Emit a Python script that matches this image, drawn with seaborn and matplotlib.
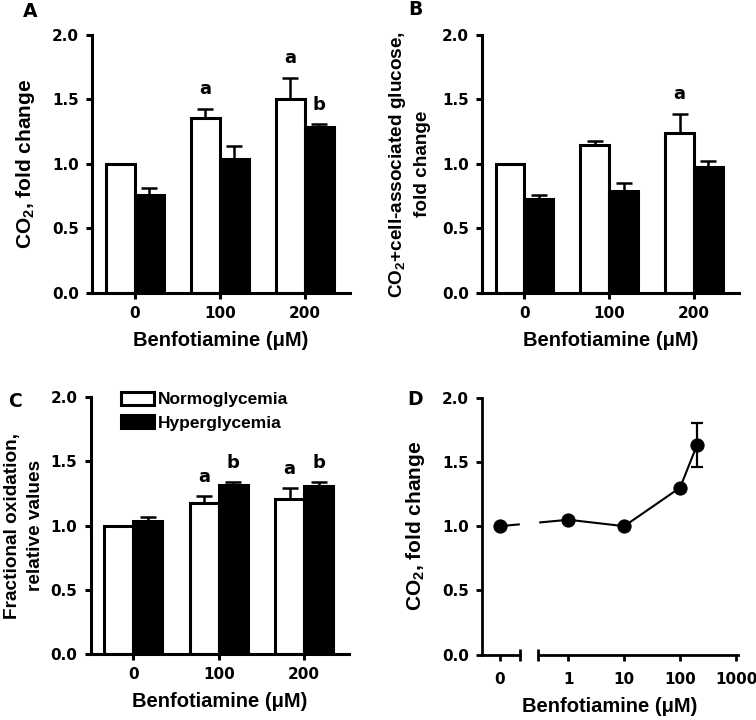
import numpy as np
import pandas as pd
import matplotlib
matplotlib.use("Agg")
import matplotlib.pyplot as plt
import seaborn as sns

# --- data ---
doses = ["0", "100", "200"]
groups = ["Normoglycemia", "Hyperglycemia"]

# A: CO2, fold change
a_normo = [1.00, 1.36, 1.50]
a_normo_err = [0.00, 0.07, 0.17]
a_hyper = [0.76, 1.04, 1.29]
a_hyper_err = [0.05, 0.10, 0.02]
a_marks_normo = ["", "a", "a"]
a_marks_hyper = ["", "", "b"]

# B: CO2 + cell-associated glucose
b_normo = [1.00, 1.15, 1.24]
b_normo_err = [0.00, 0.03, 0.15]
b_hyper = [0.73, 0.79, 0.98]
b_hyper_err = [0.03, 0.06, 0.04]
b_marks_normo = ["", "", "a"]
b_marks_hyper = ["", "", ""]

# C: fractional oxidation
c_normo = [1.00, 1.18, 1.21]
c_normo_err = [0.00, 0.05, 0.08]
c_hyper = [1.04, 1.32, 1.31]
c_hyper_err = [0.03, 0.02, 0.03]
c_marks_normo = ["", "a", "a"]
c_marks_hyper = ["", "b", "b"]

# D: dose response
d_dose = [0, 1, 10, 100, 200]
d_co2 = [1.00, 1.05, 1.00, 1.30, 1.63]
d_err = [0.0, 0.0, 0.0, 0.0, 0.17]
d_ticks = [0, 1, 10, 100, 1000]

sns.set_theme(style="ticks")
plt.rcParams["font.family"] = ["Liberation Sans", "DejaVu Sans"]
plt.rcParams["font.weight"] = "bold"
plt.rcParams["axes.labelweight"] = "bold"
plt.rcParams["mathtext.default"] = "regular"
for k in ["text.color", "axes.labelcolor", "xtick.color", "ytick.color",
          "axes.edgecolor"]:
    plt.rcParams[k] = "black"

LW = 2.2
XLAB = "Benfotiamine (\u03bcM)"


def style_axes(ax, lw=LW):
    sns.despine(ax=ax)
    for s in ["left", "bottom"]:
        ax.spines[s].set_linewidth(lw)
    ax.set_ylim(0, 2)
    ax.set_yticks([0, 0.5, 1.0, 1.5, 2.0])
    ax.yaxis.set_major_formatter(matplotlib.ticker.FormatStrFormatter("%.1f"))
    ax.tick_params(which="major", width=lw, length=4.5, pad=5,
                   labelsize=11, labelfontfamily="DejaVu Sans")
    ax.set_xlabel(XLAB, fontsize=14.5, labelpad=7)


def bar_panel(ax, normo, normo_err, hyper, hyper_err, marks_n, marks_h,
              ylabel, ysize=15, ypad=11):
    df = pd.DataFrame({
        "dose": doses * 2,
        "value": normo + hyper,
        "group": [groups[0]] * len(doses) + [groups[1]] * len(doses),
    })
    sns.barplot(data=df, x="dose", y="value", hue="group", order=doses,
                hue_order=groups, palette=["white", "black"], saturation=1,
                edgecolor="black", linewidth=LW, width=0.68, errorbar=None,
                legend=False, ax=ax)
    for cont, errs, marks in zip(ax.containers, [normo_err, hyper_err], [marks_n, marks_h]):
        xs = [b.get_x() + b.get_width() / 2 for b in cont]
        tops = [b.get_height() for b in cont]
        ax.errorbar(xs, tops, yerr=[np.zeros(len(errs)), errs], fmt="none",
                    ecolor="black", elinewidth=1.8, capsize=5.5, capthick=1.8,
                    zorder=0.8)
        for x, t, e, m in zip(xs, tops, errs, marks):
            if m:
                ax.text(x, t + e + 0.11, m, ha="center", va="baseline",
                        fontsize=13, family="DejaVu Sans", fontweight="bold")
    style_axes(ax)
    ax.set_xlim(-0.5, 2.53)
    ax.set_ylabel(ylabel, fontsize=ysize, labelpad=ypad, linespacing=1.45)


fig = plt.figure(figsize=(7.56, 7.2), dpi=100)
ax_a = fig.add_axes([0.1217, 0.5931, 0.3413, 0.3583])
ax_b = fig.add_axes([0.6376, 0.5931, 0.3399, 0.3583])
ax_c = fig.add_axes([0.1200, 0.0913, 0.3420, 0.3570])
ax_d = fig.add_axes([0.6376, 0.0907, 0.3382, 0.3570])

bar_panel(ax_a, a_normo, a_normo_err, a_hyper, a_hyper_err,
          a_marks_normo, a_marks_hyper, "CO$_2$, fold change")
bar_panel(ax_b, b_normo, b_normo_err, b_hyper, b_hyper_err,
          b_marks_normo, b_marks_hyper,
          "CO$_2$+cell-associated glucose,\nfold change", ysize=13.7, ypad=8)
bar_panel(ax_c, c_normo, c_normo_err, c_hyper, c_hyper_err,
          c_marks_normo, c_marks_hyper,
          "Fractional oxidation,\nrelative values", ysize=13.7, ypad=5)

ax_c.legend(ax_c.containers, groups, loc="upper left", bbox_to_anchor=(0.117, 1.02),
            frameon=False, borderpad=0, borderaxespad=0, handlelength=1.9,
            handleheight=0.75, handletextpad=0.2, labelspacing=0.45,
            prop={"family": "Liberation Sans", "weight": "bold", "size": 12.5})


# D: broken x axis, 0 on a linear stub, then log decades
def fwd(x):
    x = np.asarray(x, dtype=float)
    return np.where(x >= 0.1, np.log10(np.maximum(x, 0.1)), -1.222 + 2.22 * x)


def inv(y):
    y = np.asarray(y, dtype=float)
    return np.where(y >= -1, 10.0 ** np.minimum(y, 300), (y + 1.222) / 2.22)


ax_d.set_xscale("function", functions=(fwd, inv))
sns.lineplot(x=d_dose, y=d_co2, marker="o", markersize=9.5, color="black",
             markeredgecolor="black", linewidth=1.5, errorbar=None, ax=ax_d)
e = np.array(d_err)
m = e > 0
ax_d.errorbar(np.array(d_dose)[m], np.array(d_co2)[m], yerr=e[m], fmt="none",
              ecolor="black", elinewidth=1.6, capsize=4.3, capthick=1.6)
style_axes(ax_d, lw=2.0)
ax_d.set_xlim(-0.145, 1072)
ax_d.set_xticks(d_ticks)
ax_d.set_xticklabels([str(t) for t in d_ticks])
ax_d.set_xticks([0.137, 0.29], minor=True)
ax_d.tick_params(which="minor", direction="inout", length=8, width=2.0)
ax_d.tick_params(axis="x", which="major", pad=8)
ax_d.axvspan(0.137, 0.29, ymin=-0.03, ymax=1, color="white", zorder=2.6, clip_on=False)
ax_d.xaxis.set_zorder(2.7)
ax_d.set_ylabel("CO$_2$, fold change", fontsize=15, labelpad=11)

# panel letters
for lab, x, y in [("A", 0.0304, 0.9764), ("B", 0.5397, 0.979),
                  ("C", 0.0110, 0.4351), ("D", 0.5393, 0.4375)]:
    fig.text(x, y, lab, fontsize=13.5, family="DejaVu Sans", fontweight="bold",
             va="baseline", ha="left")

fig.savefig("out.png", dpi=100)
